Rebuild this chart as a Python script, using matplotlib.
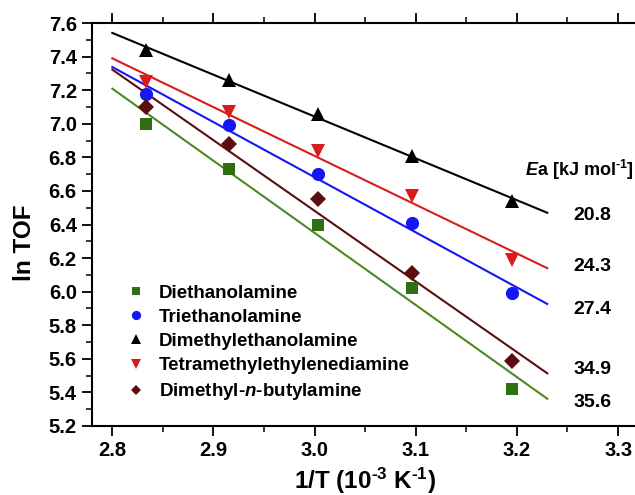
import matplotlib
matplotlib.use("Agg")
import matplotlib.pyplot as plt
from matplotlib.ticker import MultipleLocator, FormatStrFormatter
import numpy as np

plt.rcParams['font.family'] = ['Liberation Sans', 'DejaVu Sans']
plt.rcParams['font.weight'] = 'bold'
plt.rcParams['mathtext.fontset'] = 'custom'
plt.rcParams['mathtext.rm'] = 'Liberation Sans:bold'
plt.rcParams['mathtext.bf'] = 'Liberation Sans:bold'
plt.rcParams['mathtext.it'] = 'Liberation Sans:italic:bold'
plt.rcParams['mathtext.default'] = 'rm'

inv_T = [2.833, 2.915, 3.003, 3.096, 3.195]
names = ["Diethanolamine", "Triethanolamine", "Dimethylethanolamine",
         "Tetramethylethylenediamine", r"Dimethyl-$\mathit{n}$-butylamine"]
diethanolamine = [7.00, 6.73, 6.40, 6.02, 5.42]
triethanolamine = [7.18, 6.99, 6.70, 6.41, 5.99]
dimethylethanolamine = [7.44, 7.26, 7.06, 6.81, 6.54]
tetramethylethylenediamine = [7.25, 7.07, 6.84, 6.57, 6.19]
dimethylbutylamine = [7.10, 6.88, 6.55, 6.11, 5.59]
ea_labels = ["20.8", "24.3", "27.4", "34.9", "35.6"]
ea_ypos = [6.451, 6.148, 5.892, 5.535, 5.338]

series = [diethanolamine, triethanolamine, dimethylethanolamine,
          tetramethylethylenediamine, dimethylbutylamine]
colors = ['#2f6e12', '#1616f5', '#000000', '#d81c1c', '#5c0e0e']
line_colors = ['#4b8a22', '#1616f5', '#000000', '#d81c1c', '#5c0e0e']
markers = ['s', 'o', '^', 'v', 'D']
msizes = [8, 9.5, 10, 10, 8]

fig = plt.figure(figsize=(6.35, 4.95), dpi=100)
ax = fig.add_axes([0.145, 0.1394, 0.861, 0.8141])

xfit = np.array([2.8, 3.23])
for y, c, lc, m, ms, nm in zip(series, colors, line_colors, markers, msizes, names):
    p = np.polyfit(inv_T, y, 1)
    ax.plot(xfit, np.polyval(p, xfit), color=lc, lw=1.5, zorder=2)
    ax.plot(inv_T, y, linestyle='none', marker=m, color=c, ms=ms,
            markeredgewidth=0, zorder=3, label=nm)

ax.set_xlim(2.78, 3.3205)
ax.set_ylim(5.2, 7.6)
ax.xaxis.set_major_locator(MultipleLocator(0.1))
ax.xaxis.set_minor_locator(MultipleLocator(0.05))
ax.yaxis.set_major_locator(MultipleLocator(0.2))
ax.yaxis.set_minor_locator(MultipleLocator(0.1))
ax.xaxis.set_major_formatter(FormatStrFormatter('%.1f'))
ax.yaxis.set_major_formatter(FormatStrFormatter('%.1f'))
ax.tick_params(which='major', direction='out', length=7, width=1.3,
               labelsize=14.5, pad=4)
ax.tick_params(which='minor', direction='out', length=4, width=1.1)
ax.tick_params(axis='x', which='both', top=True)
for lab in ax.get_xticklabels() + ax.get_yticklabels():
    lab.set_fontweight('bold')
for s in ax.spines.values():
    s.set_linewidth(1.5)

ax.set_xlabel("1/T (10$^{\u20103}$ K$^{\u20101}$)", fontsize=17.5, fontweight='bold')
ax.set_ylabel("ln TOF", fontsize=17.5, fontweight='bold')
ax.xaxis.set_label_coords(0.4994, -0.136)
ax.xaxis.label.set_va('center')
ax.yaxis.set_label_coords(-0.124, 0.454)
ax.yaxis.label.set_va('center')

leg = ax.legend(loc='lower left', bbox_to_anchor=(0.043, 0.04), frameon=False,
                fontsize=13.5, handletextpad=0.5, labelspacing=0.38,
                markerscale=0.7, handlelength=1.4, borderaxespad=0)
for t in leg.get_texts():
    t.set_fontweight('bold')

ax.text(3.262, 6.725, "$\\mathit{E}$a [kJ mol$^{\u20101}$]", fontsize=13,
        fontweight='bold', ha='center', va='center')
for lab, yy in zip(ea_labels, ea_ypos):
    ax.text(3.275, yy, lab, fontsize=14, fontweight='bold', ha='center', va='center')

fig.savefig("out.png", dpi=100)
